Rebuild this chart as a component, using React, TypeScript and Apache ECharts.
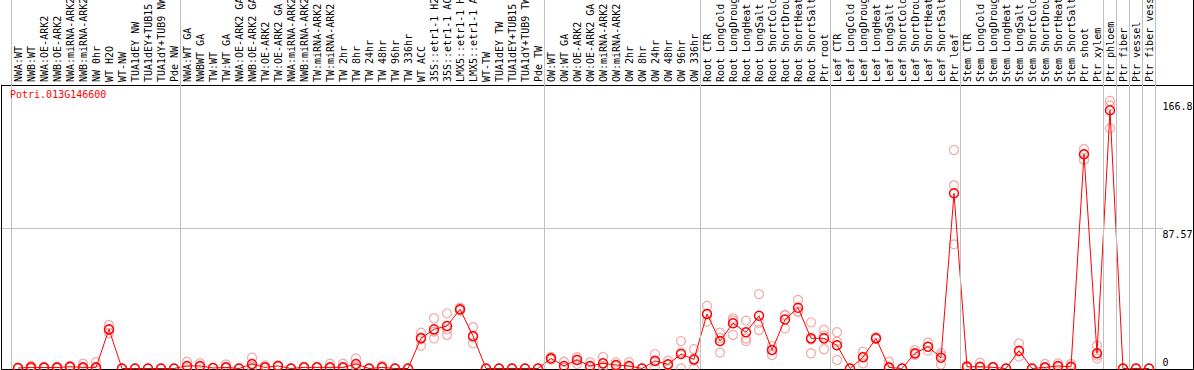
import React, { useEffect, useRef } from "react";
import * as echarts from "echarts";

const geneId = "Potri.013G146600";

const categories = [
  "NWA:WT", "NWB:WT", "NWA:OE-ARK2", "NWB:OE-ARK2", "NWA:miRNA-ARK2", "NWB:miRNA-ARK2",
  "NW 0hr", "WT H2O", "WT-NW", "TUA1dEY NW", "TUA1dEY+TUB15 NW", "TUA1dY+TUB9 NW", "Pde NW",
  "NWA:WT GA", "NWBWT GA", "TW:WT", "TW:WT GA", "NWA:OE-ARK2 GA", "NWB:OE-ARK2 GA",
  "TW:OE-ARK2", "TW:OE-ARK2 GA", "NWA:miRNA-ARK2 GA", "NWB:miRNA-ARK2 GA", "TW:miRNA-ARK2",
  "TW:miRNA-ARK2 GA", "TW 2hr", "TW 8hr", "TW 24hr", "TW 48hr", "TW 96hr", "TW 336hr",
  "WT ACC", "35S::etr1-1 H2O", "35S::etr1-1 ACC", "LMX5::etr1-1 H2O", "LMX5::etr1-1 ACC",
  "WT-TW", "TUA1dEY TW", "TUA1dEY+TUB15 TW", "TUA1dY+TUB9 TW", "Pde TW",
  "OW:WT", "OW:WT GA", "OW:OE-ARK2", "OW:OE-ARK2 GA", "OW:miRNA-ARK2", "OW:miRNA-ARK2 GA",
  "OW 2hr", "OW 8hr", "OW 24hr", "OW 48hr", "OW 96hr", "OW 336hr",
  "Root CTR", "Root LongCold", "Root LongDrought", "Root LongHeat", "Root LongSalt",
  "Root ShortCold", "Root ShortDrought", "Root ShortHeat", "Root ShortSalt", "Ptr root",
  "Leaf CTR", "Leaf LongCold", "Leaf LongDrought", "Leaf LongHeat", "Leaf LongSalt",
  "Leaf ShortCold", "Leaf ShortDrought", "Leaf ShortHeat", "Leaf ShortSalt", "Ptr leaf",
  "Stem CTR", "Stem LongCold", "Stem LongDrought", "Stem LongHeat", "Stem LongSalt",
  "Stem ShortCold", "Stem ShortDrought", "Stem ShortHeat", "Stem ShortSalt", "Ptr shoot",
  "Ptr xylem", "Ptr phloem", "Ptr fiber", "Ptr vessel", "Ptr fiber vessel",
];

const groupSizes = [13, 28, 12, 10, 10, 11, 1, 1, 1, 1];

const means = [
  0.3, 0.7, 0.6, 0.6, 1.1, 0.7, 0.7, 24.4, 0, 0, 0, 0, 0,
  1.6, 1.6, 0.3, 0.7, 0, 2.8, 0.7, 1.6, 0, 0.7, 0.7, 0.7, 0.7, 2.8, 0, 0.7, 0, 0,
  18.8, 24.4, 26.5, 36.9, 20.3, 0, 0, 0, 0, 0,
  6.3, 1.6, 5.3, 1.6, 3.2, 2.2, 1.6, 0, 4.7, 2.6, 9.0, 5.7,
  34.0, 17.1, 28.2, 22.6, 32.9, 11.5, 30.5, 37.9, 18.8, 18.8,
  14.5, 0, 7.0, 18.8, 0.7, 0, 9.5, 13.6, 6.7, 109.2,
  1.1, 1.1, 0.7, 0, 11.1, 0, 0.7, 1.6, 1.1, 133.5, 9.5,
  161.0, 0, 0, 0,
];

const replicates = [
  [0.5, 0.2, 0.2], [1.7, 0.3, 0.1], [1.0, 0.5, 0.3], [1.2, 0.4, 0.2], [1.6, 1.0, 0.7],
  [3.0, 0.2, 0], [3.9, 0.3, 0], [27.1, 24.0, 22.0], [0], [0], [0], [0], [0],
  [4.2, 0.5], [3.4, 0.8], [0.5], [2.6, 0.2], [0], [6.7, 1.2, 0.5], [1.9, 0.3], [2.0, 1.3],
  [0], [1.0], [1.0], [3.0, 0.2], [3.0, 0.2], [6.3, 1.5, 0.6], [0], [1.7], [0], [0],
  [22.3, 19.5, 14.2], [31.3, 23.0, 18.8], [34.4, 24.4, 20.9], [37.9, 36.5, 36.0],
  [25.7, 19.5, 15.7], [0], [0], [0], [0], [0],
  [7.2, 6.0, 5.5], [4.2, 0.5], [7.0, 5.5, 2.9], [3.9, 0.8], [7.2, 1.5, 0.8], [3.8, 1.5],
  [3.9, 0.8], [0], [9.0, 5.0, 0], [4.9, 2.0], [17.1, 10.0, 0], [12.0, 5.0, 0],
  [39.0, 34.0, 29.2], [22.3, 19.0, 9.9], [31.3, 30.0, 20.9], [29.8, 18.8, 17.1],
  [46.4, 28.5, 24.0], [14.0, 11.5, 8.4], [33.6, 33.0, 25.0], [42.7, 35.4, 35.5],
  [28.8, 18.0, 9.5], [24.0, 20.4, 12.0],
  [22.6, 16.7, 5.3], [0], [10.5, 7.3, 3.2], [19.5, 18.5], [4.2, 0.3], [0],
  [11.5, 9.0, 8.5], [16.1, 13.6, 11.1], [9.5, 8.0, 2.6], [136.2, 114.2, 77.4],
  [1.7, 0.8], [3.6, 0.5], [1.2], [0], [15.7, 10.5, 7.4], [0], [2.8, 0.2], [3.2, 0.8],
  [2.8, 0.5], [136.8, 133.5, 130.0], [14.2, 8.0, 6.3],
  [166.8, 164.0, 149.8], [0], [0], [0],
];

const yMax = 175.14;
const yMid = 87.57;
const yMaxLabel = 166.8;

const FONT = "'DejaVu Sans Mono', monospace";

export default function App() {
  const ref = useRef<HTMLDivElement>(null);

  useEffect(() => {
    document.body.style.margin = "0";
    if (!ref.current) return;
    const chart = echarts.init(ref.current, undefined, { renderer: "svg" });

    const boundaries = groupSizes.reduce(
      (acc: number[], n) => {
        acc.push(acc[acc.length - 1] + n);
        return acc;
      },
      [0]
    );
    const repData: number[][] = [];
    replicates.forEach((reps, i) => reps.forEach((v) => repData.push([i, v])));

    const blackLine = { show: true, onZero: false, lineStyle: { color: "#000", width: 1 } };
    const hidden = { axisTick: { show: false }, axisLabel: { show: false }, splitLine: { show: false } };
    const gridBase = { outerBoundsMode: "none", containLabel: false };

    chart.setOption({
      animation: false,
      title: {
        text: geneId,
        left: 10,
        top: 89,
        padding: 0,
        textStyle: { fontSize: 10, fontWeight: "normal", color: "#ff0000", fontFamily: FONT },
      },
      graphic: [
        {
          type: "line",
          silent: true,
          shape: { x1: 1193.5, y1: 0, x2: 1193.5, y2: 86 },
          style: { stroke: "#000", lineWidth: 1 },
        },
      ],
      grid: [
        { ...gridBase, left: 11.5, width: 1144, top: 0, height: 85 },
        { ...gridBase, left: 1.5, right: 1, top: 85, bottom: 1 },
        { ...gridBase, left: 0, width: 1163, top: 87.5, bottom: 1.5 },
        { ...gridBase, left: 11.5, width: 1144, top: 0, bottom: 1 },
        { ...gridBase, left: 11.5, width: 1144, top: 87.5, bottom: 1.5 },
      ],
      xAxis: [
        {
          gridIndex: 0,
          type: "category",
          data: categories,
          position: "bottom",
          axisLine: { show: false },
          axisTick: { show: false },
          axisLabel: {
            inside: true,
            rotate: 90,
            interval: 0,
            margin: 3,
            fontSize: 10,
            fontFamily: FONT,
            color: "#000",
          },
        },
        { gridIndex: 1, type: "value", min: 0, max: 1, position: "bottom", axisLine: blackLine, ...hidden },
        { gridIndex: 1, type: "value", min: 0, max: 1, position: "top", axisLine: blackLine, ...hidden },
        { gridIndex: 2, type: "value", min: 0, max: 1, show: false },
        { gridIndex: 3, type: "value", min: 0, max: categories.length, show: false },
        { gridIndex: 4, type: "category", data: categories, show: false },
      ],
      yAxis: [
        { gridIndex: 0, type: "value", min: 0, max: 1, show: false },
        { gridIndex: 1, type: "value", min: 0, max: 1, position: "left", axisLine: blackLine, ...hidden },
        { gridIndex: 1, type: "value", min: 0, max: 1, position: "right", axisLine: blackLine, ...hidden },
        {
          gridIndex: 2,
          type: "value",
          min: 0,
          max: yMax,
          interval: yMid,
          axisLine: { show: false },
          axisTick: { show: false },
          axisLabel: { show: false },
          splitLine: {
            show: true,
            showMinLine: false,
            showMaxLine: false,
            lineStyle: { color: "#c0c0c0", width: 1 },
          },
        },
        { gridIndex: 3, type: "value", min: 0, max: 1, show: false },
        {
          gridIndex: 4,
          type: "value",
          min: 0,
          max: yMax,
          interval: yMid,
          position: "right",
          axisLine: { show: false },
          axisTick: { show: false },
          splitLine: { show: false },
          axisLabel: {
            customValues: [0, yMid, yMaxLabel],
            margin: 7,
            fontSize: 10,
            fontFamily: FONT,
            color: "#000",
            formatter: (v: number) => (v === 0 ? "{b|0}" : "{t|" + v + "}"),
            rich: {
              t: { padding: [12, 0, 0, 0], lineHeight: 12, fontSize: 10, fontFamily: FONT, color: "#000" },
              b: { padding: [0, 0, 12, 0], lineHeight: 12, fontSize: 10, fontFamily: FONT, color: "#000" },
            },
          },
        },
      ],
      series: [
        {
          type: "line",
          xAxisIndex: 4,
          yAxisIndex: 4,
          data: [],
          silent: true,
          markLine: {
            silent: true,
            symbol: ["none", "none"],
            label: { show: false },
            lineStyle: { color: "#c0c0c0", width: 1, type: "solid" },
            data: boundaries.map((b) => ({ xAxis: b })),
          },
        },
        {
          type: "scatter",
          xAxisIndex: 5,
          yAxisIndex: 5,
          data: repData,
          symbol: "circle",
          symbolSize: 9,
          z: 2,
          silent: true,
          itemStyle: { color: "rgba(0,0,0,0)", borderColor: "#f09494", borderWidth: 1.2 },
        },
        {
          type: "line",
          xAxisIndex: 5,
          yAxisIndex: 5,
          data: means,
          symbol: "circle",
          symbolSize: 9,
          showAllSymbol: true,
          z: 3,
          silent: true,
          lineStyle: { color: "#ff0000", width: 1 },
          itemStyle: { color: "rgba(0,0,0,0)", borderColor: "#ff0000", borderWidth: 1.5 },
        },
      ],
    });

    return () => chart.dispose();
  }, []);

  return <div ref={ref} style={{ width: 1194, height: 370 }} />;
}
